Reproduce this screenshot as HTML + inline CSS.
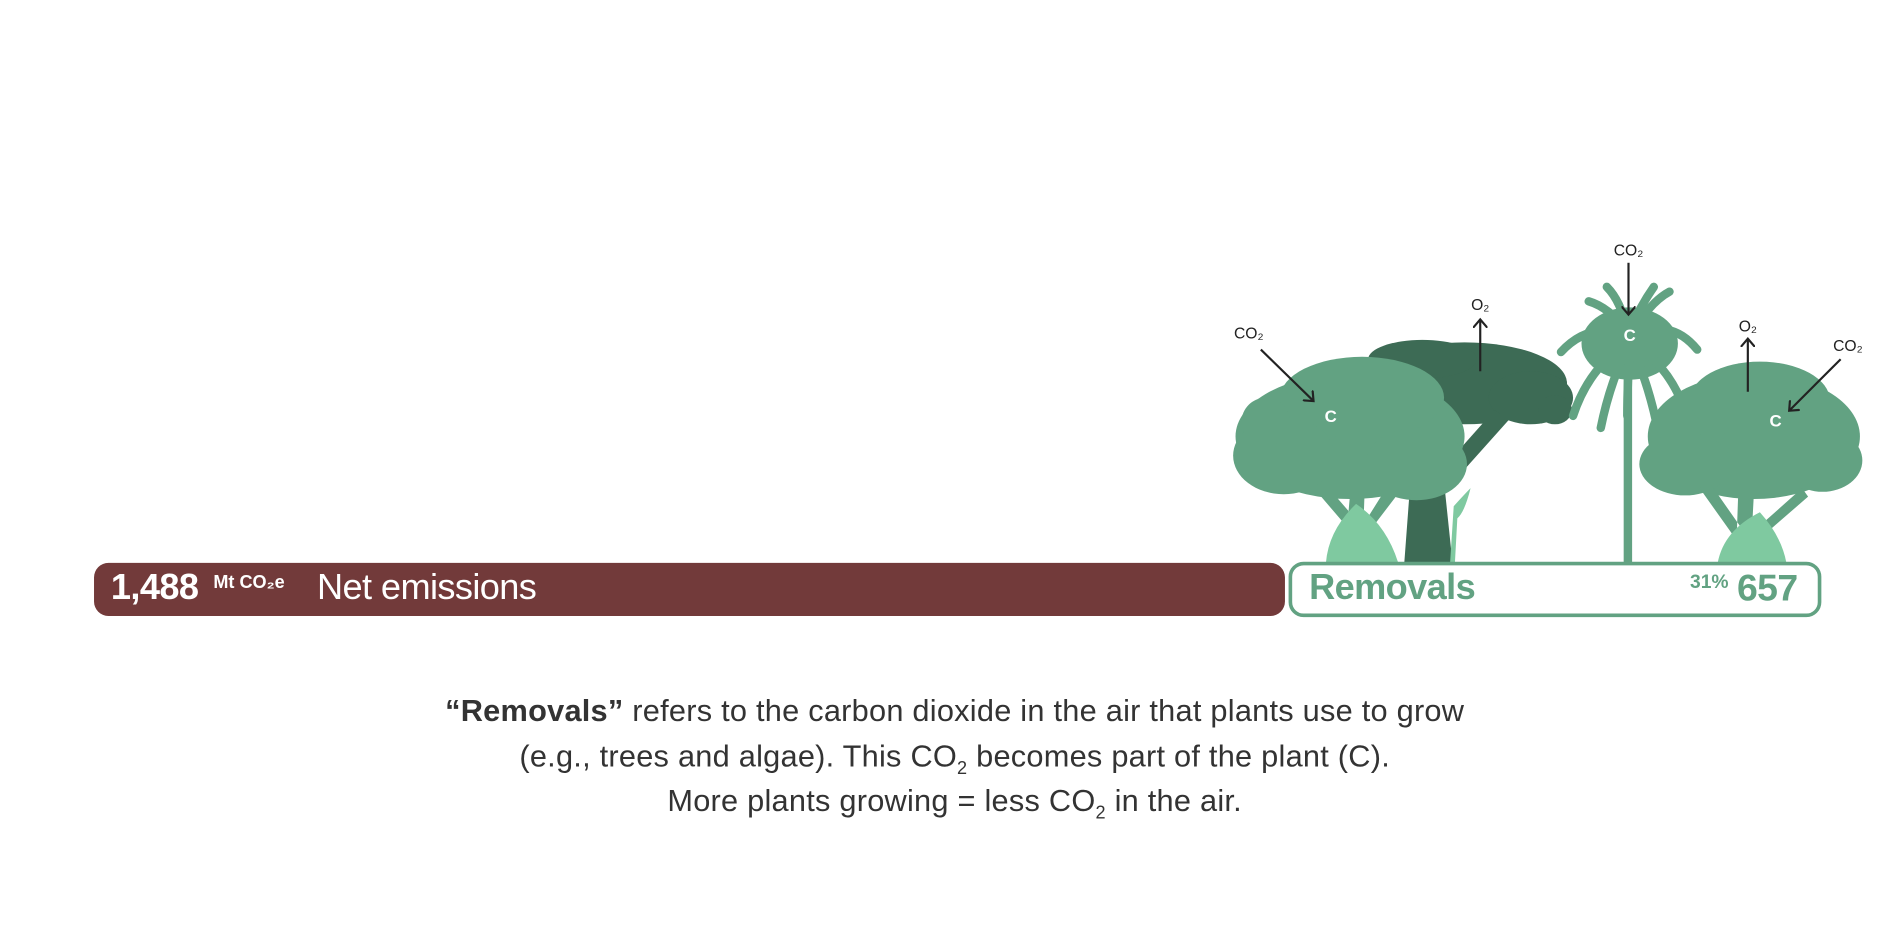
<!DOCTYPE html>
<html><head><meta charset="utf-8"><style>
html,body{margin:0;padding:0;background:#fff;width:1890px;height:945px;overflow:hidden}
#w{position:absolute;left:0;top:0;width:1568px;height:784px;transform:scale(1.2054);transform-origin:0 0;font-family:"Liberation Sans",sans-serif}
.a{position:absolute;white-space:nowrap}
sub{font-size:15px;line-height:0;vertical-align:-6px}
</style></head><body><div id="w">
<svg class="a" style="left:0;top:0" width="1568" height="784" viewBox="0 0 1568 784">
<defs><marker id="ar" markerWidth="12" markerHeight="12" refX="6" refY="6" orient="auto" markerUnits="userSpaceOnUse"><path d="M0,0 L7,6 L0,12" fill="none" stroke="#222" stroke-width="1.8"/></marker></defs>
<!-- dark tree -->
<g fill="#3d6b55">
<ellipse cx="1215" cy="318" rx="85" ry="34"/>
<ellipse cx="1180" cy="298" rx="45" ry="16"/>
<ellipse cx="1270" cy="330" rx="35" ry="22"/>
<ellipse cx="1290" cy="340" rx="14" ry="12"/>
<path d="M1165,467 L1170,400 L1180,350 L1205,350 L1198,400 L1205,467 Z"/>
<path d="M1200,385 L1240,340 L1252,348 L1210,395 Z"/>
</g>
<!-- palm -->
<g fill="#62a282">
<rect x="1347" y="310" width="7" height="157"/>
<ellipse cx="1352" cy="285" rx="40" ry="30"/>
<g stroke="#62a282" stroke-width="7" stroke-linecap="round" fill="none">
<path d="M1352,280 Q1320,265 1295,292"/><path d="M1352,280 Q1385,262 1408,290"/>
<path d="M1350,285 Q1318,305 1305,345"/><path d="M1354,285 Q1388,305 1400,348"/>
<path d="M1350,288 Q1335,320 1328,355"/><path d="M1354,288 Q1368,320 1375,355"/>
<path d="M1350,275 Q1335,255 1318,250"/><path d="M1354,275 Q1370,250 1385,242"/>
<path d="M1350,275 Q1345,250 1333,238"/><path d="M1352,275 Q1360,255 1372,238"/>
<path d="M1352,290 Q1350,320 1350,345"/>
</g>
</g>
<!-- left tree -->
<g fill="#62a282">
<ellipse cx="1120" cy="362" rx="95" ry="52"/>
<ellipse cx="1130" cy="330" rx="68" ry="34"/>
<ellipse cx="1065" cy="378" rx="42" ry="32"/>
<ellipse cx="1175" cy="385" rx="42" ry="30"/>
<ellipse cx="1050" cy="350" rx="20" ry="20"/>
<path d="M1115,467 L1120,410 L1132,410 L1130,467 Z M1090,405 L1120,440 L1124,430 L1098,400 Z M1150,405 L1128,440 L1132,446 L1158,412 Z"/>
</g>
<!-- right tree -->
<g fill="#62a282">
<ellipse cx="1455" cy="362" rx="88" ry="52"/>
<ellipse cx="1460" cy="332" rx="58" ry="32"/>
<ellipse cx="1398" cy="385" rx="38" ry="26"/>
<ellipse cx="1512" cy="382" rx="33" ry="26"/>
<path d="M1440,467 L1442,410 L1455,410 L1452,467 Z M1410,405 L1442,450 L1446,440 L1418,400 Z M1495,405 L1450,445 L1454,452 L1500,412 Z"/>
</g>
<!-- ferns / sprout -->
<g fill="#7fc9a0">
<path d="M1100,467 Q1102,440 1125,418 Q1150,435 1160,467 Z"/>
<path d="M1425,467 Q1430,440 1460,425 Q1478,445 1482,467 Z"/>
<path d="M1203,467 L1206,420 Q1215,410 1220,405 Q1215,425 1209,430 L1207,467 Z"/>
</g>
<!-- arrows -->
<g stroke="#222" stroke-width="1.8" fill="none" marker-end="url(#ar)">
<line x1="1046" y1="290" x2="1089" y2="332"/>
<line x1="1228" y1="308" x2="1228" y2="266"/>
<line x1="1351" y1="218" x2="1351" y2="260"/>
<line x1="1450" y1="325" x2="1450" y2="282"/>
<line x1="1527" y1="298" x2="1485" y2="340"/>
</g>
<g font-family="Liberation Sans" font-size="13" fill="#222" text-anchor="middle">
<text x="1036" y="281">CO₂</text><text x="1228" y="257">O₂</text><text x="1351" y="212">CO₂</text><text x="1450" y="275">O₂</text><text x="1533" y="291">CO₂</text>
</g>
<g font-family="Liberation Sans" font-size="14" fill="#fff" text-anchor="middle" font-weight="bold">
<text x="1104" y="350">C</text><text x="1352" y="283">C</text><text x="1473" y="354">C</text>
</g>
<rect x="78" y="467" width="988" height="44" rx="12" fill="#723a3a"/>
<rect x="1070.5" y="467.5" width="439" height="43" rx="11" fill="#fff" stroke="#62a282" stroke-width="3"/>
</svg>
<div class="a" style="left:92px;top:471px;color:#fff;font-size:30px;font-weight:bold;letter-spacing:-0.5px">1,488</div>
<div class="a" style="left:177px;top:475px;color:#fff;font-size:15px;font-weight:bold">Mt CO₂e</div>
<div class="a" style="left:263px;top:471px;color:#fff;font-size:30px;letter-spacing:-0.5px">Net emissions</div>
<div class="a" style="left:1086px;top:471px;color:#62a282;font-size:30px;font-weight:bold;letter-spacing:-0.5px">Removals</div>
<div class="a" style="left:1402px;top:475px;color:#62a282;font-size:16px;font-weight:bold">31%</div>
<div class="a" style="left:1441px;top:470px;color:#62a282;font-size:31px;font-weight:bold;letter-spacing:-0.5px">657</div>
<div class="a" style="left:0;width:1584px;top:572px;text-align:center;color:#333;font-size:25.5px;line-height:37.5px;letter-spacing:0.2px">
<b>“Removals”</b> refers to the carbon dioxide in the air that plants use to grow<br>
(e.g., trees and algae). This CO<sub>2</sub> becomes part of the plant (C).<br>
More plants growing = less CO<sub>2</sub> in the air.</div>
</div></body></html>
